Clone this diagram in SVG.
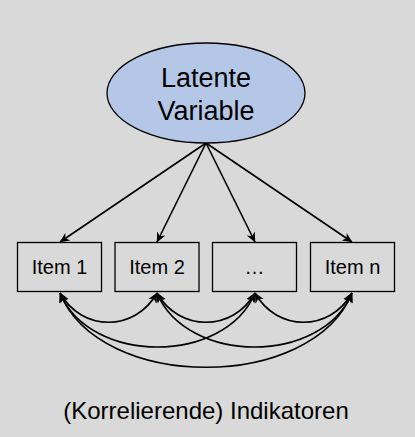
<svg xmlns="http://www.w3.org/2000/svg" width="415" height="437" viewBox="0 0 415 437">
  <defs>
    <marker id="arr" viewBox="0 0 10 10" refX="9.5" refY="5" markerWidth="10" markerHeight="10" markerUnits="userSpaceOnUse" orient="auto-start-reverse">
      <path d="M0,0.5 L10,5 L0,9.5 L3,5 z" fill="#000"/>
    </marker>
    <style>
      .bg { fill: #D9D9D9; }
      .item { fill: #D9D9D9; stroke: #000; stroke-width: 1.3; }
      .latent { fill: #B4C7E7; stroke: #000; stroke-width: 1.3; }
      .lbl { font-family: "Liberation Sans", Arial, sans-serif; fill: #000; text-anchor: middle; }
      .edge { fill: none; stroke: #000; stroke-width: 1.6; marker-end: url(#arr); }
      .corr { fill: none; stroke: #000; stroke-width: 1.7; marker-start: url(#arr); marker-end: url(#arr); }
    </style>
  </defs>
  <rect class="bg" x="0" y="0" width="415" height="437"/>

  <g id="connectors">
    <line class="edge" x1="206" y1="143" x2="60" y2="242"/>
    <line class="edge" x1="206" y1="143" x2="157" y2="242"/>
    <line class="edge" x1="206" y1="143" x2="255" y2="242"/>
    <line class="edge" x1="206" y1="143" x2="352" y2="242"/>
    <!-- adjacent correlations -->
    <path class="corr" d="M60,293 C82,332 135,332 157,293"/>
    <path class="corr" d="M157,293 C179,332 233,332 255,293"/>
    <path class="corr" d="M255,293 C277,332 330,332 352,293"/>
    <!-- skip-one correlations -->
    <path class="corr" d="M60,293 C90,365 225,365 255,293"/>
    <path class="corr" d="M157,293 C187,365 322,365 352,293"/>
    <!-- outer correlation -->
    <path class="corr" d="M60,293 C100,392 312,392 352,293"/>
  </g>

  <g id="latent">
    <ellipse class="latent" cx="206" cy="93" rx="99" ry="50"/>
    <text class="lbl" x="206" y="87" font-size="27">Latente</text>
    <text class="lbl" x="206" y="120" font-size="27">Variable</text>
  </g>
  <g id="item1">
    <rect class="item" x="17.5" y="242.5" width="84" height="49"/>
    <text class="lbl" x="59.5" y="274" font-size="20">Item 1</text>
  </g>
  <g id="item2">
    <rect class="item" x="115" y="242.5" width="84" height="49"/>
    <text class="lbl" x="157" y="274" font-size="20">Item 2</text>
  </g>
  <g id="item3">
    <rect class="item" x="212.5" y="242.5" width="84" height="49"/>
    <text class="lbl" x="254.5" y="274" font-size="20">…</text>
  </g>
  <g id="itemn">
    <rect class="item" x="310.5" y="242.5" width="84" height="49"/>
    <text class="lbl" x="352.5" y="274" font-size="20">Item n</text>
  </g>
  <g id="caption">
    <text class="lbl" x="206" y="419" font-size="24">(Korrelierende) Indikatoren</text>
  </g>
</svg>
